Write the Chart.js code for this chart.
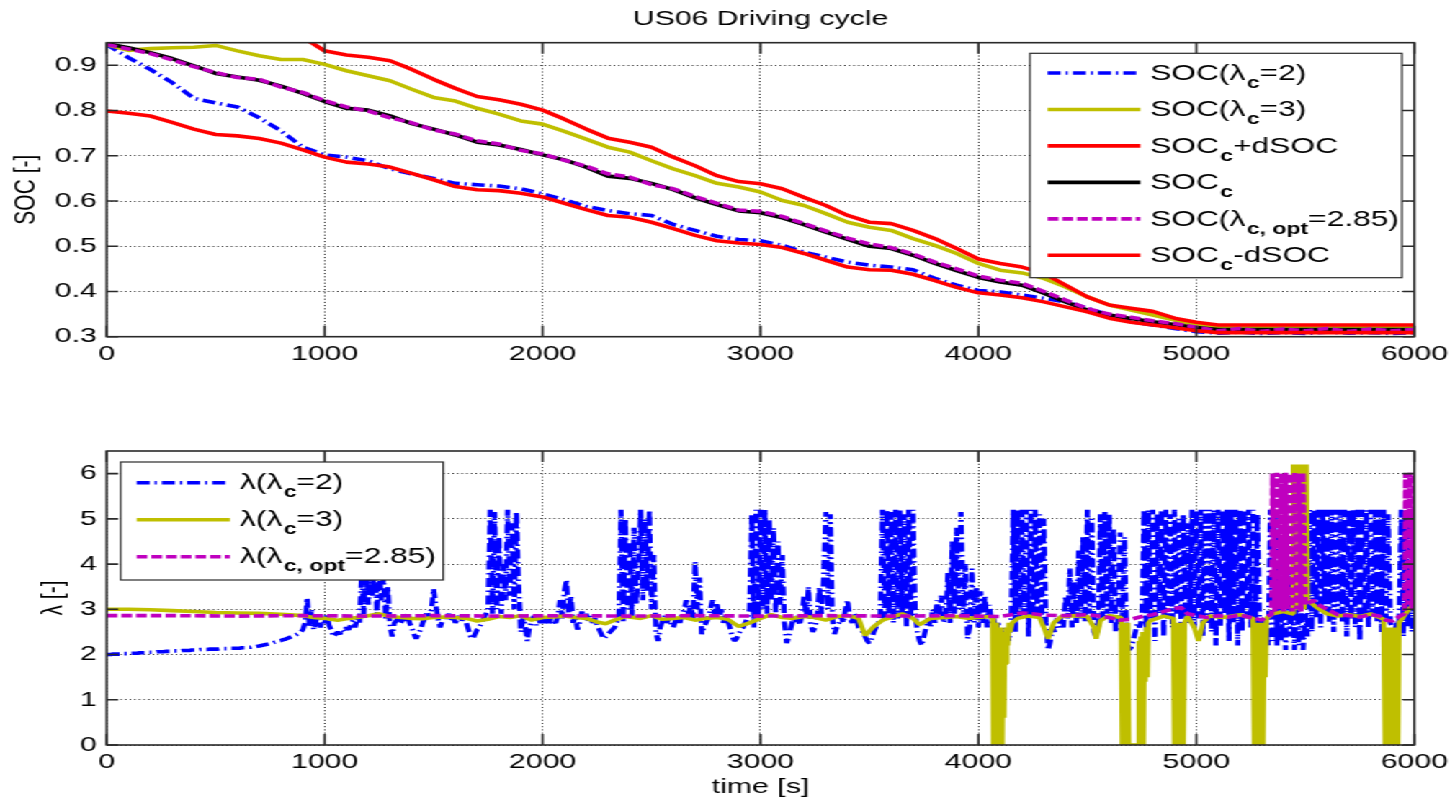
<!DOCTYPE html>
<html>
<head>
<meta charset="utf-8">
<script src="https://cdn.jsdelivr.net/npm/chart.js@4.4.1/dist/chart.umd.min.js"></script>
<style>
  html, body { margin: 0; padding: 0; background: #ffffff; overflow: hidden; }
  #wrap { position: absolute; left: 0; top: 0; width: 1010px; height: 800px;
          transform: scaleX(1.440594); transform-origin: 0 0; }
  canvas { display: block; }
</style>
</head>
<body>
<div id="wrap">
  <canvas id="socChart" width="1010" height="400"></canvas>
  <canvas id="lamChart" width="1010" height="400"></canvas>
</div>
<script>
// ---------------- DATA ----------------
const chartTitle = 'US06 Driving cycle';
const xTicks = [0, 1000, 2000, 3000, 4000, 5000, 6000];
const socTicks = [0.3, 0.4, 0.5, 0.6, 0.7, 0.8, 0.9];
const lamTicks = [0, 1, 2, 3, 4, 5, 6];

// SOC series, sampled every 100 s from 0 to 6000 s
const SOC_STEP = 100;
const soc2 = [0.946,0.917,0.891,0.862,0.827,0.817,0.808,0.784,0.755,0.719,
  0.702,0.697,0.689,0.671,0.660,0.650,0.639,0.636,0.633,0.627,
  0.616,0.603,0.588,0.579,0.572,0.568,0.548,0.535,0.522,0.515,
  0.512,0.502,0.487,0.476,0.465,0.458,0.454,0.448,0.429,0.414,
  0.402,0.399,0.392,0.385,0.377,0.363,0.348,0.333,0.326,0.318,
  0.311,0.308,0.310,0.307,0.309,0.307,0.310,0.308,0.309,0.307,0.309];
const soc3 = [0.946,0.933,0.937,0.939,0.940,0.944,0.932,0.921,0.913,0.913,
  0.902,0.888,0.877,0.866,0.847,0.829,0.821,0.805,0.792,0.777,
  0.770,0.754,0.737,0.719,0.708,0.689,0.671,0.656,0.639,0.631,
  0.620,0.601,0.590,0.572,0.553,0.542,0.535,0.517,0.502,0.484,
  0.462,0.447,0.441,0.429,0.410,0.388,0.370,0.359,0.348,0.337,
  0.326,0.321,0.320,0.322,0.320,0.321,0.320,0.322,0.320,0.321,0.320];
const socUpper = [1.098,1.089,1.078,1.065,1.049,1.032,1.024,1.017,1.003,0.962,
  0.932,0.923,0.918,0.910,0.891,0.869,0.849,0.831,0.824,0.814,
  0.801,0.781,0.759,0.739,0.730,0.719,0.697,0.678,0.656,0.643,
  0.638,0.627,0.608,0.590,0.568,0.553,0.550,0.535,0.517,0.495,
  0.472,0.462,0.454,0.440,0.414,0.388,0.370,0.363,0.356,0.341,
  0.332,0.326,0.326,0.326,0.326,0.326,0.326,0.326,0.326,0.326,0.326];
const socRef = [0.948,0.939,0.928,0.915,0.899,0.882,0.874,0.867,0.854,0.838,
  0.820,0.805,0.801,0.788,0.771,0.759,0.746,0.730,0.724,0.714,
  0.702,0.691,0.675,0.655,0.650,0.639,0.625,0.607,0.592,0.578,
  0.574,0.563,0.548,0.531,0.515,0.500,0.495,0.480,0.462,0.446,
  0.431,0.421,0.414,0.396,0.377,0.359,0.348,0.340,0.333,0.327,
  0.320,0.316,0.316,0.316,0.316,0.316,0.316,0.316,0.316,0.316,0.316];
const socOpt = [0.946,0.936,0.926,0.912,0.897,0.884,0.873,0.869,0.852,0.840,
  0.822,0.808,0.799,0.784,0.773,0.757,0.748,0.733,0.726,0.712,
  0.704,0.690,0.677,0.660,0.653,0.636,0.627,0.610,0.595,0.580,
  0.577,0.566,0.550,0.534,0.518,0.505,0.497,0.483,0.465,0.450,
  0.434,0.425,0.418,0.400,0.381,0.362,0.350,0.343,0.335,0.329,
  0.321,0.313,0.318,0.312,0.317,0.313,0.318,0.312,0.317,0.313,0.316];
const socLower = [0.799,0.794,0.788,0.774,0.759,0.747,0.744,0.738,0.728,0.713,
  0.697,0.686,0.682,0.675,0.661,0.647,0.632,0.625,0.623,0.617,
  0.609,0.595,0.581,0.568,0.564,0.553,0.539,0.524,0.512,0.507,
  0.504,0.497,0.484,0.469,0.454,0.448,0.447,0.438,0.424,0.409,
  0.397,0.392,0.386,0.377,0.366,0.355,0.341,0.332,0.326,0.320,
  0.313,0.309,0.309,0.309,0.309,0.309,0.309,0.309,0.309,0.309,0.309];

// lambda(lambda_c = 2), sampled every 10 s from 0 to 6000 s
const LAM2_STEP = 10;
const lam2 = [
  2.00,2.00,2.00,2.01,2.01,2.01,2.01,2.02,2.02,2.02, // 0
  2.02,2.03,2.03,2.03,2.03,2.04,2.04,2.04,2.04,2.05, // 100
  2.05,2.05,2.05,2.06,2.06,2.06,2.06,2.07,2.07,2.07, // 200
  2.07,2.08,2.08,2.08,2.08,2.09,2.09,2.09,2.09,2.10, // 300
  2.10,2.10,2.10,2.11,2.11,2.11,2.11,2.12,2.12,2.12, // 400
  2.12,2.12,2.13,2.13,2.13,2.13,2.13,2.14,2.14,2.14, // 500
  2.14,2.14,2.15,2.15,2.15,2.16,2.16,2.17,2.17,2.18, // 600
  2.19,2.20,2.21,2.22,2.23,2.24,2.25,2.27,2.28,2.30, // 700
  2.31,2.33,2.34,2.36,2.38,2.40,2.42,2.44,2.47,2.50, // 800
  2.55,2.70,3.25,2.60,3.00,2.55,2.75,2.85,2.60,2.80, // 900
  2.70,2.90,2.65,2.55,2.40,2.45,2.50,2.45,2.55,2.50, // 1000
  2.60,2.55,2.65,2.75,2.60,2.80,2.70,3.80,2.90,4.20, // 1100
  3.10,4.00,3.30,4.30,2.90,3.90,3.20,3.70,2.80,3.50, // 1200
  2.60,2.40,2.70,2.75,2.85,2.70,2.80,2.75,2.90,2.70, // 1300
  2.60,2.45,2.35,2.45,2.55,2.70,2.80,2.95,2.80,3.00, // 1400
  3.45,3.10,2.80,2.60,2.75,2.85,2.80,2.90,2.75,2.85, // 1500
  2.70,2.80,2.90,2.75,2.85,2.70,2.55,2.40,2.35,2.45, // 1600
  2.55,2.60,2.70,2.80,2.90,3.00,5.20,2.90,5.15,3.00, // 1700
  4.60,2.90,4.00,3.20,5.20,3.30,4.90,3.00,5.15,3.60, // 1800
  2.50,2.80,2.65,2.30,2.60,2.75,2.85,2.65,2.80,2.70, // 1900
  2.85,2.70,2.80,2.65,2.90,2.75,2.70,2.85,3.20,2.80, // 2000
  3.40,3.65,2.90,3.30,2.70,2.85,2.55,2.70,2.95,2.80, // 2100
  2.90,2.75,2.85,2.70,2.80,2.65,2.55,2.45,2.35,2.40, // 2200
  2.45,2.50,2.55,2.60,2.70,2.80,5.20,2.70,5.00,3.00, // 2300
  4.50,2.80,4.80,3.10,3.90,5.20,3.20,5.00,3.40,5.20, // 2400
  3.00,4.20,2.50,2.30,2.60,2.75,2.85,2.70,2.80,2.70, // 2500
  2.60,2.75,2.85,2.70,2.90,3.00,3.20,2.90,3.10,2.80, // 2600
  4.05,3.00,3.70,2.45,2.60,2.70,2.80,3.00,3.20,2.90, // 2700
  3.15,2.80,3.00,2.70,2.90,2.75,2.60,2.40,2.30,2.35, // 2800
  2.45,2.55,2.60,2.70,2.80,3.00,5.10,2.60,5.20,2.80, // 2900
  5.20,3.00,5.20,2.90,5.00,3.20,4.80,2.90,4.50,3.10, // 3000
  4.20,2.70,2.25,2.40,2.60,2.80,2.70,2.85,2.65,2.90, // 3100
  3.30,2.80,3.50,2.70,2.50,2.60,2.80,3.50,2.90,3.70, // 3200
  5.15,3.00,5.10,2.80,2.45,2.60,2.70,2.85,2.70,3.00, // 3300
  3.20,2.80,2.70,2.90,2.80,2.60,2.55,2.50,2.40,2.30, // 3400
  2.25,2.35,2.50,2.60,2.70,2.90,5.20,2.80,5.20,2.90, // 3500
  5.15,2.70,5.20,2.80,5.20,2.90,5.10,2.60,5.20,2.80, // 3600
  5.20,2.90,2.50,2.30,2.20,2.40,2.60,2.80,2.60,3.00, // 3700
  2.70,3.20,2.80,3.30,2.70,2.90,3.80,2.70,4.50,2.90, // 3800
  4.80,3.00,5.15,2.80,4.00,2.35,2.60,3.90,2.70,3.50, // 3900
  2.60,3.40,2.70,3.30,2.60,3.10,2.70,2.80,2.50,2.70, // 4000
  2.40,2.60,2.30,2.50,2.30,2.70,5.20,2.50,5.20,2.80, // 4100
  5.20,2.90,5.20,2.40,5.20,2.80,5.20,2.90,5.10,2.80, // 4200
  5.00,2.70,2.10,2.30,2.60,2.50,2.80,2.60,2.85,2.60, // 4300
  3.30,2.80,3.90,2.60,3.60,2.70,4.30,2.80,4.60,2.70, // 4400
  5.20,2.90,5.00,2.50,2.40,2.60,5.10,2.80,5.15,2.90, // 4500
  5.10,2.70,4.80,2.50,2.60,4.70,2.80,4.60,2.40,2.10, // 4600
  2.15,2.30,2.50,2.70,2.60,2.80,5.20,2.50,5.20,2.80, // 4700
  5.20,2.30,5.10,2.90,5.20,2.40,5.20,2.80,5.10,2.60, // 4800
  5.20,2.90,5.00,2.70,5.10,2.80,4.90,2.70,5.20,2.60, // 4900
  5.20,2.80,5.20,2.40,5.20,2.70,5.20,2.50,5.20,2.20, // 5000
  5.20,2.60,5.20,2.90,5.20,2.30,5.20,2.70,5.20,2.20, // 5100
  5.20,2.50,5.20,2.80,5.20,2.60,5.20,2.40,5.10,2.70, // 5200
  2.60,2.80,2.50,2.20,5.20,2.30,5.10,2.20,4.00,2.30, // 5300
  3.50,2.10,3.80,2.40,3.20,2.10,3.60,2.20,3.00,2.10, // 5400
  2.90,2.40,5.20,2.50,5.20,2.80,5.20,2.60,5.20,2.90, // 5500
  5.20,2.70,5.20,2.50,5.20,2.90,5.20,2.70,5.20,2.40, // 5600
  5.20,2.80,5.20,2.60,5.20,2.30,5.20,2.80,5.20,2.60, // 5700
  5.20,2.90,5.20,2.70,5.20,2.50,5.20,2.80,5.10,2.70, // 5800
  2.60,2.50,2.70,2.60,5.20,2.40,5.20,2.60,5.10,2.50, // 5900
  4.50];                                             // 6000

// lambda(lambda_c = 3): [time s, value]
const lam3 = [[0,3.00],[100,3.00],[200,2.99],[300,2.97],[400,2.95],[500,2.93],[600,2.92],[700,2.91],[800,2.89],[900,2.86],
  [950,2.82],[1000,2.80],[1060,2.76],[1100,2.79],[1150,2.82],[1200,2.86],[1250,2.90],[1300,2.84],[1350,2.82],[1400,2.80],
  [1450,2.79],[1500,2.82],[1550,2.83],[1600,2.82],[1650,2.80],[1700,2.74],[1750,2.78],[1800,2.84],[1850,2.82],[1900,2.86],
  [1950,2.76],[2000,2.82],[2050,2.83],[2100,2.85],[2150,2.82],[2200,2.80],[2250,2.72],[2290,2.68],[2330,2.76],[2380,2.84],
  [2450,2.80],[2500,2.86],[2550,2.78],[2600,2.80],[2650,2.82],[2700,2.76],[2750,2.80],[2800,2.82],[2850,2.78],[2900,2.62],
  [2950,2.70],[3000,2.80],[3050,2.88],[3100,2.82],[3150,2.80],[3200,2.84],[3250,2.82],[3300,2.76],[3350,2.84],[3400,2.86],
  [3450,2.80],[3480,2.42],[3520,2.62],[3560,2.76],[3600,2.82],[3650,2.90],[3700,2.80],[3730,2.66],[3780,2.80],[3850,2.82],
  [3900,2.84],[3950,2.80],[4000,2.82],[4050,2.84],
  [4065,2.80],[4069,0],[4074,2.7],[4079,0],[4084,2.7],[4089,0],[4094,2.6],[4099,0],[4104,2.6],[4109,0],
  [4113,2.4],[4117,0.6],[4121,2.5],[4125,1.8],[4130,2.6],[4135,2.2],[4140,2.7],[4145,2.5],[4155,2.7],[4180,2.8],
  [4230,2.85],[4280,2.82],[4300,2.6],[4320,2.35],[4345,2.7],[4380,2.84],[4450,2.86],[4500,2.84],[4530,2.6],[4540,2.35],
  [4560,2.75],[4600,2.86],
  [4655,2.82],[4660,0],[4665,2.7],[4670,0],[4675,2.7],[4680,0],[4685,2.7],[4690,0],[4695,0],[4733,0],
  [4737,2.3],[4741,0],[4745,2.4],[4749,0],[4753,2.5],[4757,0],[4761,2.5],[4765,1.4],[4770,2.6],[4775,1.5],
  [4780,2.7],[4790,2.75],[4850,2.85],
  [4895,2.80],[4900,0],[4905,2.7],[4910,0],[4915,2.7],[4920,0],[4925,2.7],[4930,0],[4935,2.7],[4940,0],
  [4946,2.7],[4960,2.85],[4990,2.6],[5010,2.3],[5030,2.7],[5060,2.85],[5120,2.82],[5200,2.88],
  [5260,2.80],[5266,0],[5271,2.7],[5276,0],[5281,2.7],[5286,0],[5291,2.7],[5296,0],[5301,2.7],[5306,0],
  [5311,2.7],[5316,1.5],[5322,2.8],[5350,2.9],[5400,2.95],
  [5440,2.9],[5445,6.2],[5455,3.0],[5465,6.2],[5475,3.0],[5485,6.2],[5495,3.0],[5505,6.2],[5510,3.2],
  [5550,3.05],[5600,2.9],[5650,2.85],[5700,2.88],[5750,2.84],[5800,2.90],
  [5860,2.78],[5866,0],[5871,2.6],[5876,0],[5881,2.6],[5886,0],[5891,2.6],[5896,0],[5901,2.6],[5906,0],
  [5911,2.6],[5916,0],[5921,2.6],[5925,0],[5930,2.7],[5960,2.9],[6000,3.15]];

// lambda(lambda_c,opt = 2.85): [time s, value]
const lamOpt = [[0,2.86],[300,2.86],[600,2.85],[900,2.86],[1200,2.85],[1500,2.86],[1800,2.85],[2100,2.86],[2400,2.85],[2700,2.86],
  [3000,2.85],[3300,2.86],[3600,2.85],[3900,2.86],[4000,2.85],[4100,2.84],[4200,2.92],[4250,2.90],[4300,2.87],[4400,2.86],
  [4500,2.88],[4600,2.82],[4650,2.76],[4700,2.78],[4750,2.84],[4800,2.88],[4850,2.95],[4900,3.02],[4930,3.04],[4960,2.90],
  [5000,2.86],[5050,2.82],[5100,2.86],[5150,2.83],[5200,2.87],[5250,2.82],[5300,2.76],[5320,2.84],[5345,2.88],
  [5350,6.00],[5360,2.95],[5370,6.02],[5380,3.00],[5390,6.00],[5400,2.95],[5410,6.02],[5420,3.00],[5430,6.00],
  [5440,2.95],[5450,6.02],[5460,3.00],[5470,6.00],[5480,2.95],[5490,6.02],
  [5500,3.10],[5520,3.15],[5535,3.20],[5560,3.10],[5600,3.00],[5650,2.88],[5700,2.86],[5750,2.83],[5800,2.88],[5840,2.85],
  [5870,2.76],[5900,2.74],[5930,2.84],[5955,2.90],[5960,6.00],[5970,3.10],[5980,6.02],[5990,3.00],[6000,6.00]];

// ---------------- HELPERS ----------------
const FONT = '"Liberation Sans", Arial, Helvetica, sans-serif';
Chart.defaults.font.family = FONT;
Chart.defaults.font.size = 21;
Chart.defaults.color = '#000000';

const gridPts = (vals, step) => vals.map((v, i) => ({ x: i * step, y: v }));
const pairPts = (pairs) => pairs.map(([x, y]) => ({ x, y }));

function line(label, data, color, dash, order) {
  return { label, data, borderColor: color, backgroundColor: color, borderWidth: 3.6,
    borderDash: dash || [], pointRadius: 0, fill: false, tension: 0,
    borderJoinStyle: 'bevel', order };
}

// draw "SOC_{c}" style labels with subscripts
function drawRich(ctx, text, x, y, o) {
  const parts = text.split(/(_\{[^}]*\})/).filter(p => p.length);
  ctx.textAlign = 'left';
  ctx.textBaseline = 'alphabetic';
  for (const p of parts) {
    if (p.startsWith('_{')) {
      const s = p.slice(2, -1);
      ctx.font = 'bold ' + o.subSize + 'px ' + FONT;
      ctx.fillText(s, x + 1, y + o.subDrop);
      x += ctx.measureText(s).width + 1;
    } else {
      ctx.font = o.textSize + 'px ' + FONT;
      ctx.fillText(p, x, y);
      x += ctx.measureText(p).width;
    }
  }
}

const matlabAxes = {
  id: 'matlabAxes',
  afterDatasetsDraw(chart, args, o) {
    const { ctx, chartArea: a, scales: { x, y } } = chart;
    ctx.save();
    ctx.strokeStyle = o.color;
    ctx.lineWidth = o.lineWidth;
    ctx.setLineDash([]);
    ctx.beginPath();
    for (const t of x.ticks) {
      const px = x.getPixelForValue(t.value);
      ctx.moveTo(px, a.bottom); ctx.lineTo(px, a.bottom - o.tickV);
      ctx.moveTo(px, a.top); ctx.lineTo(px, a.top + o.tickV);
    }
    for (const t of y.ticks) {
      const py = y.getPixelForValue(t.value);
      ctx.moveTo(a.left, py); ctx.lineTo(a.left + o.tickH, py);
      ctx.moveTo(a.right, py); ctx.lineTo(a.right - o.tickH, py);
    }
    ctx.stroke();
    ctx.strokeRect(a.left, a.top, a.right - a.left, a.bottom - a.top);
    ctx.restore();
  }
};

const matlabLegend = {
  id: 'matlabLegend',
  afterDraw(chart, args, o) {
    const { ctx, chartArea: a } = chart;
    const x0 = o.anchor === 'right' ? a.right - o.offsetX - o.width : a.left + o.offsetX;
    const y0 = a.top + o.offsetY;
    ctx.save();
    ctx.fillStyle = '#ffffff';
    ctx.fillRect(x0, y0, o.width, o.height);
    ctx.strokeStyle = '#2a2a2a';
    ctx.lineWidth = 1.2;
    ctx.setLineDash([]);
    ctx.strokeRect(x0, y0, o.width, o.height);
    chart.data.datasets.forEach((ds, i) => {
      const yy = y0 + o.firstRow + i * o.rowGap;
      ctx.strokeStyle = ds.borderColor;
      ctx.lineWidth = ds.borderWidth;
      ctx.setLineDash(ds.borderDash || []);
      ctx.lineDashOffset = 0;
      ctx.beginPath();
      ctx.moveTo(x0 + o.lineX, yy);
      ctx.lineTo(x0 + o.lineX + o.lineLen, yy);
      ctx.stroke();
      ctx.setLineDash([]);
      ctx.fillStyle = '#000000';
      drawRich(ctx, ds.label, x0 + o.textX, yy + o.baseline, o);
    });
    ctx.restore();
  }
};

function xScale(withTitle, height, labelPad) {
  return {
    type: 'linear', min: 0, max: 6000,
    afterBuildTicks: s => { s.ticks = xTicks.map(v => ({ value: v })); },
    afterFit: s => { s.height = height; },
    ticks: { padding: labelPad, maxRotation: 0, autoSkip: false, callback: v => String(v) },
    grid: { color: 'rgba(0,0,0,0.85)', lineWidth: 1, drawTicks: false },
    border: { display: false, dash: [1, 2.2] },
    title: withTitle ? { display: true, text: 'time [s]', padding: { top: 0, bottom: 0 } } : { display: false }
  };
}
function yScale(min, max, tickVals, fmt, title, titlePad) {
  return {
    type: 'linear', min, max,
    afterBuildTicks: s => { s.ticks = tickVals.map(v => ({ value: v })); },
    afterFit: s => { s.width = 74.07; },
    ticks: { padding: 6.8, autoSkip: false, callback: fmt },
    grid: { color: 'rgba(0,0,0,0.85)', lineWidth: 1, drawTicks: false },
    border: { display: false, dash: [1, 2.2] },
    title: { display: true, text: title, padding: { top: titlePad, bottom: 0 } }
  };
}

const axesOpts = { color: '#2a2a2a', lineWidth: 1.6, tickV: 11, tickH: 8 };

// ---------------- TOP CHART ----------------
new Chart(document.getElementById('socChart'), {
  type: 'line',
  data: { datasets: [
    line('SOC(λ_{c}=2)', gridPts(soc2, SOC_STEP), '#0000ff', [9, 3.5, 1.5, 3.5], 6),
    line('SOC(λ_{c}=3)', gridPts(soc3, SOC_STEP), '#bfbf00', null, 5),
    line('SOC_{c}+dSOC', gridPts(socUpper, SOC_STEP), '#ff0000', null, 4),
    line('SOC_{c}', gridPts(socRef, SOC_STEP), '#000000', null, 3),
    line('SOC(λ_{c, opt}=2.85)', gridPts(socOpt, SOC_STEP), '#bf00bf', [7.4, 2.8], 2),
    line('SOC_{c}-dSOC', gridPts(socLower, SOC_STEP), '#ff0000', null, 1)
  ]},
  options: {
    responsive: false, animation: false, events: [], parsing: false,
    layout: { padding: { left: 0, right: 26.6, top: 0, bottom: 0 } },
    scales: {
      x: xScale(false, 63.3, 4.9),
      y: yScale(0.3, 0.95, socTicks, v => Number(v).toFixed(1), 'SOC [-]', 5.3)
    },
    plugins: {
      legend: { display: false },
      tooltip: { enabled: false },
      title: { display: true, text: chartTitle, fullSize: false, color: '#000',
               font: { size: 21, weight: 'normal' }, padding: { top: 6.6, bottom: 10.9 } },
      matlabAxes: axesOpts,
      matlabLegend: { anchor: 'right', offsetX: 8.6, offsetY: 10.6, width: 258.2, height: 224.4,
        lineX: 12.3, lineLen: 64.3, textX: 83.5, firstRow: 19.7, rowGap: 36.46, baseline: 7,
        textSize: 22, subSize: 16, subDrop: 8 }
    }
  },
  plugins: [matlabAxes, matlabLegend]
});

// ---------------- BOTTOM CHART ----------------
new Chart(document.getElementById('lamChart'), {
  type: 'line',
  data: { datasets: [
    line('λ(λ_{c}=2)', gridPts(lam2, LAM2_STEP), '#0000ff', [9, 3.5, 1.5, 3.5], 3),
    line('λ(λ_{c}=3)', pairPts(lam3), '#bfbf00', null, 2),
    line('λ(λ_{c, opt}=2.85)', pairPts(lamOpt), '#bf00bf', [7.4, 2.8], 1)
  ]},
  options: {
    responsive: false, animation: false, events: [], parsing: false,
    layout: { padding: { left: 0, right: 26.6, top: 51, bottom: 0 } },
    scales: {
      x: xScale(true, 55, 4.9),
      y: yScale(0, 6.5, lamTicks, v => String(v), 'λ [-]', 24.4)
    },
    plugins: {
      legend: { display: false },
      tooltip: { enabled: false },
      title: { display: false },
      matlabAxes: axesOpts,
      matlabLegend: { anchor: 'left', offsetX: 9.7, offsetY: 11, width: 223.9, height: 118,
        lineX: 11.1, lineLen: 64.8, textX: 82.8, firstRow: 20.7, rowGap: 37, baseline: 6.6,
        textSize: 22, subSize: 16, subDrop: 8 }
    }
  },
  plugins: [matlabAxes, matlabLegend]
});
</script>
</body>
</html>
